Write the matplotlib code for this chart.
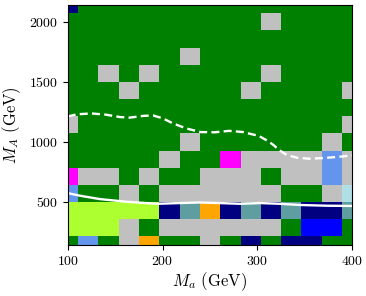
import matplotlib
matplotlib.use('Agg')
import matplotlib.pyplot as plt
import numpy as np
from matplotlib.colors import ListedColormap

plt.rcParams['font.family'] = 'serif'
plt.rcParams['font.serif'] = ['cmr10']
plt.rcParams['mathtext.fontset'] = 'cm'
plt.rcParams['axes.formatter.use_mathtext'] = True
plt.rcParams['font.size'] = 10

# scan grid: M_a (x) and M_A (y) centres
m_a = np.linspace(100, 400, 15)
m_A = np.linspace(140, 2140, 15)

# category of each scan point, bottom row first
# G green, S silver, N navy, M magenta, C cornflower, Y greenyellow,
# O orange, T cadetblue, B blue, P powderblue
grid_rows = [
    "GCGSOGGSGNGNNGG",
    "YYYSGSSSSSSGBBG",
    "YYYYYNTONTNTNNT",
    "CGGSGSSSSSSGGSP",
    "MSSGSGGSSSGSSCS",
    "GGGGGSGGMSSSSCS",
    "GGGGGGSGGGGGGSG",
    "SGGGGGGGGGGGGGS",
    "GGGGGGGGGGGGGGG",
    "GGGSGGGGGSGGGGS",
    "GGSGSGGGGGSGGGG",
    "GGGGGGSGGGGGGGG",
    "GGGGGGGGGGGGGGG",
    "GGGGGGGGGGSGGGG",
    "NGGGGGGGGGGGGGG",
]
codes = "GSNMCYOTBP"
colours = ['green', 'silver', 'navy', 'magenta', 'cornflowerblue',
           'greenyellow', 'orange', 'cadetblue', 'blue', 'powderblue']

# boundary curves
dash_x = [100, 110, 125, 140, 155, 165, 180, 190, 200, 211, 225, 240, 255,
          270, 285, 295, 301, 310, 317, 322, 331, 342, 355, 370, 387, 400]
dash_y = [1210, 1228, 1235, 1225, 1205, 1200, 1215, 1218, 1195, 1152, 1110,
          1080, 1078, 1090, 1080, 1060, 1050, 1010, 972, 935, 889, 866, 858,
          864, 875, 885]
solid_x = [100, 113, 134, 162, 194, 218, 239, 260, 282, 303, 324, 345, 373, 400]
solid_y = [572, 550, 522, 500, 483, 489, 494, 489, 483, 489, 483, 473, 467, 465]

z = np.array([[codes.index(c) for c in row] for row in grid_rows])

fig = plt.figure(figsize=(3.66, 2.96), dpi=100)
ax = fig.add_axes([0.185, 0.1723, 0.7776, 0.8118])
ax.pcolormesh(m_a, m_A, z, cmap=ListedColormap(colours), vmin=-0.5,
              vmax=len(colours) - 0.5, shading='nearest', antialiased=True,
              linewidth=0)
ax.plot(dash_x, dash_y, color='white', lw=1.7, ls=(0, (3.4, 1.8)))
ax.plot(solid_x, solid_y, color='white', lw=1.7)

ax.set_xlim(100, 400)
ax.set_ylim(140, 2140)
ax.set_xticks([100, 200, 300, 400])
ax.set_yticks([500, 1000, 1500, 2000])
ax.set_xlabel(r'$M_a$ (GeV)', fontsize=12, labelpad=2)
ax.set_ylabel(r'$M_A$ (GeV)', fontsize=12, labelpad=4)

fig.savefig('out.png', dpi=100)
